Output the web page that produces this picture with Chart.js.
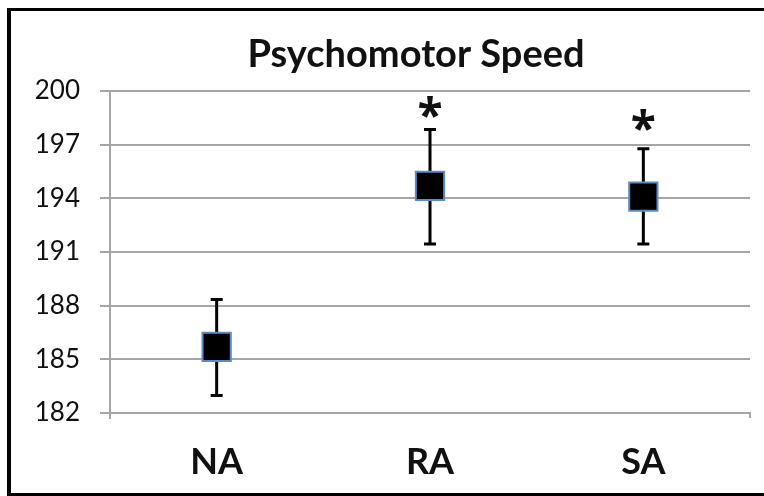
<!DOCTYPE html>
<html>
<head>
<meta charset="utf-8">
<script src="https://cdn.jsdelivr.net/npm/chart.js@4.4.0/dist/chart.umd.min.js"></script>
<style>
    html, body { margin: 0; padding: 0; background: #fff; }
    #wrap { position: relative; width: 764px; height: 496px; overflow: hidden; }
    #frame {
        position: absolute; left: 7px; top: 8px; width: 800px; height: 482px;
        border: 3px solid #000; border-left-width: 4px; pointer-events: none;
    }
    canvas { position: absolute; left: 0; top: 0; }
</style>
</head>
<body>
<div id="wrap">
    <canvas id="chart" width="764" height="496"></canvas>
    <div id="frame"></div>
</div>
<script>
const categories = ['NA', 'RA', 'SA'];
const means = [185.7, 194.7, 194.1];
const errPlus = [2.65, 3.15, 2.67];
const errMinus = [2.72, 3.25, 2.65];
const starAt = [null, 199.1, 198.4];
const yTicks = [182, 185, 188, 191, 194, 197, 200];
const titleText = 'Psychomotor Speed';

const FONT = 'Lato, "Open Sans", sans-serif';
const gridGray = '#a6a6a6';

const extras = {
    id: 'extras',
    beforeDatasetsDraw(chart) {
        const ctx = chart.ctx;
        const x = chart.scales.x, y = chart.scales.y;
        const area = chart.chartArea;
        ctx.save();
        // small axis stubs under the bottom corners
        ctx.strokeStyle = gridGray;
        ctx.lineWidth = 2;
        ctx.beginPath();
        ctx.moveTo(area.left, area.bottom); ctx.lineTo(area.left, area.bottom + 6);
        ctx.moveTo(area.right, area.bottom); ctx.lineTo(area.right, area.bottom + 5);
        ctx.stroke();
        // error bars
        ctx.strokeStyle = '#000';
        ctx.lineWidth = 3;
        means.forEach(function(m, i) {
            const px = x.getPixelForValue(i);
            const top = y.getPixelForValue(m + errPlus[i]);
            const bot = y.getPixelForValue(m - errMinus[i]);
            ctx.beginPath();
            ctx.moveTo(px, top); ctx.lineTo(px, bot);
            ctx.moveTo(px - 6, top); ctx.lineTo(px + 6, top);
            ctx.moveTo(px - 6, bot); ctx.lineTo(px + 6, bot);
            ctx.stroke();
        });
        ctx.restore();
    },
    afterDatasetsDraw(chart) {
        const ctx = chart.ctx;
        const x = chart.scales.x, y = chart.scales.y;
        ctx.save();
        ctx.fillStyle = '#111';
        ctx.textAlign = 'center';
        ctx.textBaseline = 'alphabetic';
        ctx.font = 'bold 38px ' + FONT;
        ctx.fillText(titleText, 416, 67);
        ctx.font = 'bold 46px "Open Sans", sans-serif';
        starAt.forEach(function(v, i) {
            if (v === null) return;
            const m = ctx.measureText('*');
            const cy = y.getPixelForValue(v);
            const base = cy - (m.actualBoundingBoxDescent - m.actualBoundingBoxAscent) / 2;
            ctx.fillText('*', x.getPixelForValue(i), base);
        });
        ctx.restore();
    }
};

new Chart(document.getElementById('chart'), {
    type: 'line',
    data: {
        labels: categories,
        datasets: [{
            data: means,
            showLine: false,
            pointStyle: 'rect',
            pointRadius: 20,
            pointHoverRadius: 20,
            pointBackgroundColor: '#000',
            pointBorderColor: '#5b8bc9',
            pointBorderWidth: 2
        }]
    },
    options: {
        responsive: false,
        animation: false,
        layout: { autoPadding: false, padding: { left: 0, right: 14, top: 91, bottom: 0 } },
        plugins: {
            legend: { display: false },
            tooltip: { enabled: false },
            title: { display: false }
        },
        scales: {
            x: {
                offset: true,
                afterFit(scale) { scale.height = 83; },
                grid: { display: false },
                border: { display: true, color: gridGray, width: 2 },
                ticks: {
                    color: '#111',
                    padding: 20,
                    font: { family: FONT, size: 36, weight: 'bold' }
                }
            },
            y: {
                min: 182,
                max: 200,
                afterBuildTicks(scale) {
                    scale.ticks = yTicks.map(function(v) { return { value: v }; });
                },
                afterFit(scale) { scale.width = 110; },
                grid: { color: gridGray, lineWidth: 2, tickLength: 10 },
                border: { display: true, color: gridGray, width: 2 },
                ticks: {
                    color: '#111',
                    padding: 20,
                    font: { family: FONT, size: 26 }
                }
            }
        }
    },
    plugins: [extras]
});
</script>
</body>
</html>
